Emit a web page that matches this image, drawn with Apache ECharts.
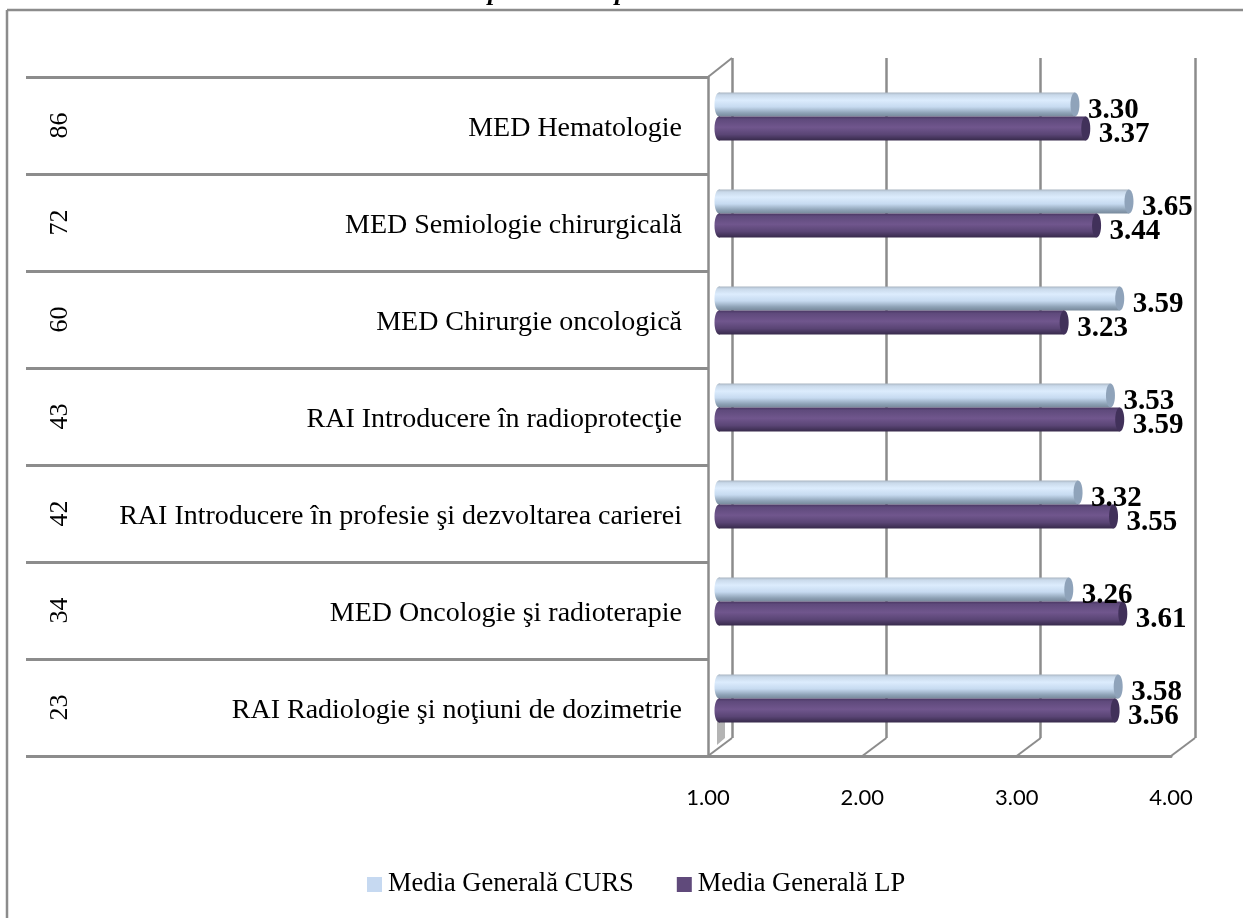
<!DOCTYPE html>
<html>
<head>
<meta charset="utf-8">
<title>Media Generala</title>
<style>
  html, body { margin: 0; padding: 0; background: #fff; }
  #chart { width: 1243px; height: 918px; }
</style>
<script src="https://cdn.jsdelivr.net/npm/echarts@6/dist/echarts.min.js"></script>
</head>
<body>
<div id="chart"></div>
<script>
// listed top to bottom, as in the picture
var counts = ['86', '72', '60', '43', '42', '34', '23'];
var subjects = [
  'MED Hematologie',
  'MED Semiologie chirurgicală',
  'MED Chirurgie oncologică',
  'RAI Introducere în radioprotecţie',
  'RAI Introducere în profesie şi dezvoltarea carierei',
  'MED Oncologie şi radioterapie',
  'RAI Radiologie şi noţiuni de dozimetrie'
];
var cursValues = [3.30, 3.65, 3.59, 3.53, 3.32, 3.26, 3.58];
var lpValues = [3.37, 3.44, 3.23, 3.59, 3.55, 3.61, 3.56];
var xTicks = [1, 2, 3, 4];

var GRAY = '#8c8c8c';
var SERIF = '"Liberation Serif", serif';
var BAR_H = 24;
// depth of the fake 3d box
var DEPTH_X = 24, DEPTH_Y = -18;

var chart = echarts.init(document.getElementById('chart'));

function vGrad(stops) {
  return new echarts.graphic.LinearGradient(0, 0, 0, 1, stops.map(function (s) {
    return { offset: s[0], color: s[1] };
  }));
}

var cursBody = vGrad([[0, '#a9b5c2'], [0.1, '#c9d9ea'], [0.32, '#dcecfd'], [0.6, '#c6daf0'], [0.85, '#8ea2b6'], [1, '#77899b']]);
var lpBody = vGrad([[0, '#4a3763'], [0.12, '#5f4a7c'], [0.45, '#70568d'], [0.75, '#5a4575'], [1, '#372a4b']]);

// one horizontal cylinder per row, side -1 sits above the row centre, 1 below
function cylinder(side, body, cap, labelDy) {
  return function (params, api) {
    var val = api.value(0);
    var end = api.coord([val, api.value(1)]);
    var start = api.coord([1, api.value(1)]);
    var top = side < 0 ? end[1] - BAR_H : end[1];
    var mid = top + BAR_H / 2;
    return {
      type: 'group',
      children: [
        { type: 'ellipse', shape: { cx: start[0] - 1, cy: mid, rx: 4.5, ry: BAR_H / 2 }, style: { fill: body } },
        { type: 'rect', shape: { x: start[0] - 1, y: top, width: end[0] - start[0] + 1, height: BAR_H }, style: { fill: body } },
        { type: 'ellipse', shape: { cx: end[0], cy: mid, rx: 4.5, ry: BAR_H / 2 }, style: { fill: cap } },
        {
          type: 'text',
          z2: 50,
          style: {
            x: end[0] + 13,
            y: mid + labelDy,
            text: val.toFixed(2),
            fill: '#000',
            font: 'bold 29px ' + SERIF,
            verticalAlign: 'middle'
          }
        }
      ]
    };
  };
}

// slanted floor and wall edges of the box
function boxEdges(params, api) {
  var bottom = params.coordSys.y + params.coordSys.height;
  var x = api.coord([api.value(0), 0])[0];
  var lineStyle = { stroke: GRAY, lineWidth: 2, fill: null };
  var children = [{
    type: 'line',
    shape: { x1: x, y1: bottom, x2: x + DEPTH_X, y2: bottom + DEPTH_Y },
    style: lineStyle
  }];
  if (params.dataIndex === 0) {
    children.push({
      type: 'line',
      shape: { x1: x, y1: params.coordSys.y, x2: x + DEPTH_X, y2: params.coordSys.y + DEPTH_Y - 1 },
      style: lineStyle
    });
  }
  return { type: 'group', children: children };
}

function withRow(values) {
  return values.map(function (v, i) { return [v, i]; });
}

chart.setOption({
  animation: false,
  backgroundColor: '#fff',
  graphic: [
    { type: 'line', shape: { x1: 7, y1: 10, x2: 1243, y2: 10 }, style: { stroke: GRAY, lineWidth: 2.5 } },
    { type: 'line', shape: { x1: 7, y1: 10, x2: 7, y2: 918 }, style: { stroke: GRAY, lineWidth: 2.5 } },
    { type: 'polygon', shape: { points: [[717, 722], [725, 722], [725, 738], [717, 745]] }, style: { fill: '#b4b4b4' } },
    // tail of the title cut off by the page edge
    { type: 'text', style: { x: 488, y: -20, text: 'p', fill: '#000', font: 'italic bold 26px ' + SERIF } },
    { type: 'text', style: { x: 615, y: -20, text: 'p', fill: '#000', font: 'italic bold 26px ' + SERIF } }
  ],
  legend: {
    left: 362,
    top: 866,
    itemWidth: 15,
    itemHeight: 15,
    itemGap: 43,
    icon: 'rect',
    textStyle: { fontFamily: SERIF, fontSize: 26.5, color: '#000', padding: [0, 0, 0, 1] },
    data: ['Media Generală CURS', 'Media Generală LP']
  },
  grid: [
    { left: 732, top: 58, width: 463, height: 680 },   // back wall
    { left: 720, top: 68, width: 463, height: 679 },   // plane the bars sit in
    { left: 708, top: 77, width: 463, height: 679 }    // front, carries the axes
  ],
  xAxis: [
    {
      gridIndex: 0, type: 'value', min: 1, max: 4, interval: 1,
      axisLine: { show: false }, axisTick: { show: false }, axisLabel: { show: false },
      splitLine: { show: true, lineStyle: { color: GRAY, width: 2.5 } }
    },
    {
      gridIndex: 1, type: 'value', min: 1, max: 4, interval: 1,
      axisLine: { show: false }, axisTick: { show: false }, axisLabel: { show: false },
      splitLine: { show: false }
    },
    {
      gridIndex: 2, type: 'value', min: 1, max: 4, interval: 1, position: 'bottom',
      axisLine: { show: true, onZero: false, lineStyle: { color: GRAY, width: 3 } },
      axisTick: { show: false },
      splitLine: { show: false },
      axisLabel: {
        margin: 31,
        fontFamily: 'Lato',
        fontSize: 22,
        color: '#000',
        formatter: function (v) { return v.toFixed(2); }
      }
    }
  ],
  yAxis: [
    { gridIndex: 0, type: 'category', inverse: true, data: subjects, show: false },
    { gridIndex: 1, type: 'category', inverse: true, data: subjects, show: false },
    {
      gridIndex: 2, type: 'category', inverse: true, data: subjects, position: 'left',
      axisLine: { show: true, onZero: false, lineStyle: { color: GRAY, width: 2.5 } },
      axisTick: { show: true, length: 682, lineStyle: { color: GRAY, width: 3 } },
      axisLabel: {
        margin: 26,
        color: '#000',
        align: 'right',
        formatter: '{s|{value}}',
        rich: { s: { fontFamily: SERIF, fontSize: 28, color: '#000', padding: [6, 0, 0, 0] } }
      },
      splitLine: { show: false }
    },
    {
      gridIndex: 2, type: 'category', inverse: true, data: counts, position: 'left',
      axisLine: { show: false },
      axisTick: { show: false },
      axisLabel: { margin: 635, rotate: 90, fontFamily: SERIF, fontSize: 26, color: '#000' },
      splitLine: { show: false }
    }
  ],
  series: [
    {
      name: 'edges',
      type: 'custom',
      xAxisIndex: 2,
      yAxisIndex: 2,
      clip: false,
      silent: true,
      encode: { x: 0 },
      data: xTicks.map(function (t) { return [t]; }),
      renderItem: boxEdges
    },
    {
      name: 'Media Generală CURS',
      type: 'custom',
      xAxisIndex: 1,
      yAxisIndex: 1,
      clip: false,
      itemStyle: { color: '#c6d9f1' },
      encode: { x: 0, y: 1 },
      data: withRow(cursValues),
      renderItem: cylinder(-1, cursBody, '#8fa3ba', 6)
    },
    {
      name: 'Media Generală LP',
      type: 'custom',
      xAxisIndex: 1,
      yAxisIndex: 1,
      clip: false,
      itemStyle: { color: '#604a7b' },
      encode: { x: 0, y: 1 },
      data: withRow(lpValues),
      renderItem: cylinder(1, lpBody, '#41315a', 6)
    }
  ]
});
</script>
</body>
</html>
